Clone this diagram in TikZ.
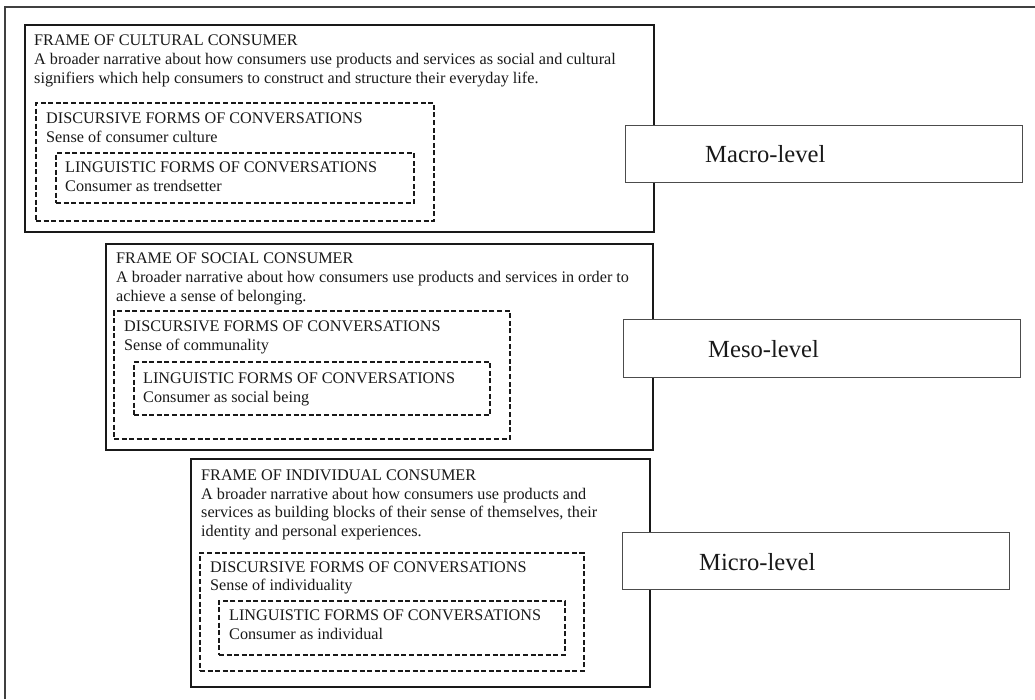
\documentclass[tikz,border=0pt]{standalone}
\usepackage{fontspec}
\setmainfont{Liberation Serif}
\begin{document}
\begin{tikzpicture}[x=1pt,y=-1pt,
  framebox/.style={draw=black!90,line width=2pt,fill=white,anchor=north west,inner sep=0pt},
  dashbox/.style={draw=black!90,line width=1.8pt,dash pattern=on 5pt off 2.6pt,anchor=north west,inner sep=0pt},
  levelbox/.style={draw=black!70,line width=1pt,fill=white,anchor=north west,inner sep=0pt},
  txt/.style={anchor=base west,inner sep=0pt,font=\fontsize{16.2}{19}\selectfont,text=black!90},
  leveltxt/.style={anchor=base west,inner sep=0pt,font=\fontsize{24.6}{28}\selectfont,text=black!90}]
\useasboundingbox (0,0) rectangle (1035,699);
\fill[white] (0,0) rectangle (1035,699);
% outer border (top and left only visible)
\coordinate (bl) at (5,699);
\coordinate (tl) at (5,7);
\coordinate (tr) at (1035,7);
\draw[black!75,line width=1.3pt] (bl) -- (tl) -- (tr);

% ---------- Macro ----------
\node[framebox,minimum width=629,minimum height=207] (f1) at (24,24) {};
\node[dashbox,minimum width=398,minimum height=118] (d1) at (35,102) {};
\node[dashbox,minimum width=358,minimum height=50] (l1) at (55,152) {};
\node[txt] (f1a) at (34,45) {FRAME OF CULTURAL CONSUMER};
\node[txt] (f1b) at (34,64) {A broader narrative about how consumers use products and services as social and cultural};
\node[txt] (f1c) at (34,83) {signifiers which help consumers to construct and structure their everyday life.};
\node[txt] (d1a) at (46,123) {DISCURSIVE FORMS OF CONVERSATIONS};
\node[txt] (d1b) at (46,142) {Sense of consumer culture};
\node[txt] (l1a) at (65,172) {LINGUISTIC FORMS OF CONVERSATIONS};
\node[txt] (l1b) at (65,191) {Consumer as trendsetter};
\node[levelbox,minimum width=397,minimum height=57] (m1) at (625,125) {};
\node[leveltxt] (m1t) at (705,162) {Macro-level};

% ---------- Meso ----------
\node[framebox,minimum width=547,minimum height=206] (f2) at (105,243) {};
\node[dashbox,minimum width=396,minimum height=128] (d2) at (113,310) {};
\node[dashbox,minimum width=356,minimum height=53] (l2) at (133,361) {};
\node[txt] (f2a) at (116,263) {FRAME OF SOCIAL CONSUMER};
\node[txt] (f2b) at (116,282) {A broader narrative about how consumers use products and services in order to};
\node[txt] (f2c) at (116,301) {achieve a sense of belonging.};
\node[txt] (d2a) at (124,331) {DISCURSIVE FORMS OF CONVERSATIONS};
\node[txt] (d2b) at (124,350) {Sense of communality};
\node[txt] (l2a) at (143,383) {LINGUISTIC FORMS OF CONVERSATIONS};
\node[txt] (l2b) at (143,402) {Consumer as social being};
\node[levelbox,minimum width=397,minimum height=58] (m2) at (623,319) {};
\node[leveltxt] (m2t) at (708,357) {Meso-level};

% ---------- Micro ----------
\node[framebox,minimum width=459,minimum height=228] (f3) at (190,458) {};
\node[dashbox,minimum width=384,minimum height=118] (d3) at (199,552) {};
\node[dashbox,minimum width=346,minimum height=54] (l3) at (218,600) {};
\node[txt] (f3a) at (201,480) {FRAME OF INDIVIDUAL CONSUMER};
\node[txt] (f3b) at (201,499) {A broader narrative about how consumers use products and};
\node[txt] (f3c) at (201,517) {services as building blocks of their sense of themselves, their};
\node[txt] (f3d) at (201,536) {identity and personal experiences.};
\node[txt] (d3a) at (210,572) {DISCURSIVE FORMS OF CONVERSATIONS};
\node[txt] (d3b) at (210,590) {Sense of individuality};
\node[txt] (l3a) at (229,620) {LINGUISTIC FORMS OF CONVERSATIONS};
\node[txt] (l3b) at (229,639) {Consumer as individual};
\node[levelbox,minimum width=387,minimum height=57] (m3) at (622,532) {};
\node[leveltxt] (m3t) at (699,570) {Micro-level};
\end{tikzpicture}
\end{document}
